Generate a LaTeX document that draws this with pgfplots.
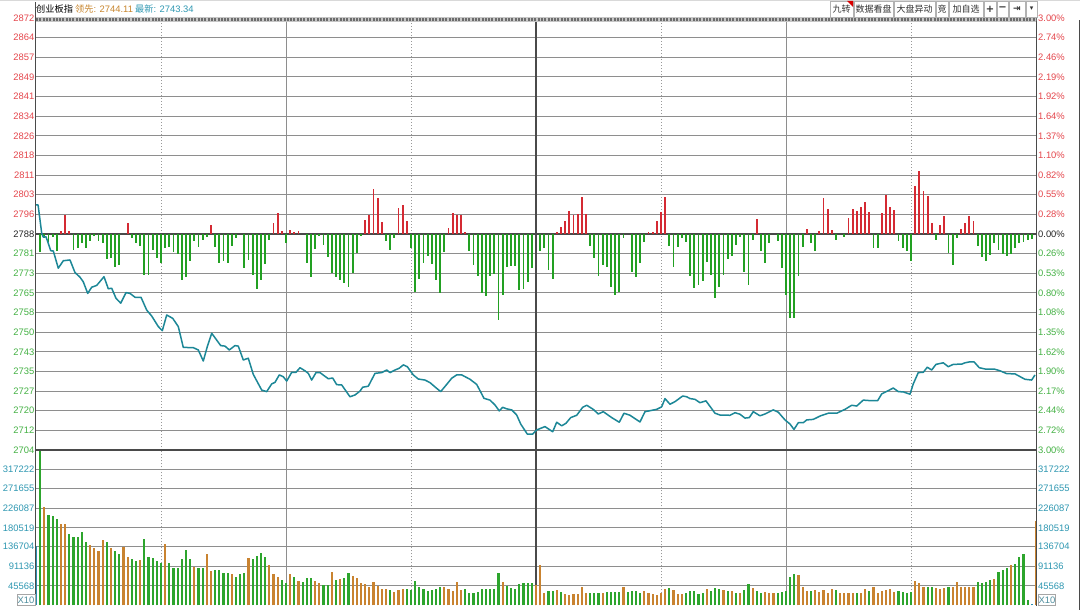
\documentclass[border=0pt]{standalone}
\usepackage{fontspec}
\setmainfont{Liberation Sans}
\newfontfamily\cjk{Noto Sans CJK SC}
\newfontfamily\dvs{DejaVu Sans}
\usepackage{pgfplots}
\pgfplotsset{compat=1.18}

\definecolor{cred}{HTML}{E5474D}
\definecolor{cgrn}{HTML}{45B245}
\definecolor{cteal}{HTML}{2F98B2}
\definecolor{cdark}{HTML}{4A4A4A}
\definecolor{cgrid}{HTML}{8E8E8E}
\definecolor{barred}{HTML}{D42A33}
\definecolor{bargrn}{HTML}{22A022}
\definecolor{volgrn}{HTML}{2DA52D}
\definecolor{volorg}{HTML}{C98330}
\definecolor{volblu}{HTML}{2E8FB0}
\definecolor{pline}{HTML}{1C8797}
\definecolor{corange}{HTML}{C8862E}

\newcommand\lbl{\fontsize{9.4}{10}\selectfont}
\newcommand\R[1]{\textcolor{cred}{#1}}
\newcommand\G[1]{\textcolor{cgrn}{#1}}
\newcommand\K[1]{\textcolor{black!85}{#1}}
\newcommand\T[1]{\textcolor{cteal}{#1}}

\pgfplotsset{
  panel/.style={scale only axis, width=1000pt, anchor=south west,
    xmin=0, xmax=240, axis line style={draw=none}, tick style={draw=none},
    major tick length=0pt, minor tick length=0pt, scaled y ticks=false},
  vgrid/.style={xtick={60,180}, xticklabels={}, minor xtick={30,90,150,210},
    extra x ticks={120}, extra x tick labels={},
    extra x tick style={grid=major, major grid style={draw=cdark, line width=1.4pt}},
    xmajorgrids, xminorgrids, ymajorgrids,
    major grid style={draw=cgrid, line width=0.9pt},
    minor grid style={draw=gray!80, line width=0.7pt, dash pattern=on 1pt off 2pt}},
  leftlab/.style={yticklabel style={font=\lbl, inner sep=0pt, xshift=-1.5pt}},
  rightlab/.style={yticklabel pos=right, yticklabel style={font=\lbl, inner sep=0pt, xshift=2pt}},
}

\begin{document}
\begin{tikzpicture}
\useasboundingbox (0,0) rectangle (1080pt,610pt);
\fill[white] (0,0) rectangle (1080pt,610pt);

% price panel: grid and left labels
\begin{axis}[panel, vgrid, leftlab, at={(36pt,160pt)}, height=432pt,
  ymin=2704, ymax=2872,
  ytick={2704,2711.6364,2719.2727,2726.9091,2734.5455,2742.1818,2749.8182,2757.4545,2765.0909,2772.7273,2780.3636,2788,2795.6364,2803.2727,2810.9091,2818.5455,2826.1818,2833.8182,2841.4545,2849.0909,2856.7273,2864.3636,2872},
  yticklabels={\G{2704},\G{2712},\G{2720},\G{2727},\G{2735},\G{2743},\G{2750},\G{2758},\G{2765},\G{2773},\G{2781},\K{2788},\R{2796},\R{2803},\R{2811},\R{2818},\R{2826},\R{2834},\R{2841},\R{2849},\R{2857},\R{2864},\R{2872}},
  extra y ticks={2788}, extra y tick labels={},
  extra y tick style={grid=major, major grid style={draw=cdark, line width=2pt}},
]
\end{axis}

% up/down strength bars and right percentage labels
\begin{axis}[panel, rightlab, at={(36pt,160pt)}, height=432pt,
  ymin=-84, ymax=84, xtick=\empty,
  ytick={-84,-76.3636,-68.7273,-61.0909,-53.4545,-45.8182,-38.1818,-30.5455,-22.9091,-15.2727,-7.6364,0,7.6364,15.2727,22.9091,30.5455,38.1818,45.8182,53.4545,61.0909,68.7273,76.3636,84},
  yticklabels={\G{3.00\%},\G{2.72\%},\G{2.44\%},\G{2.17\%},\G{1.90\%},\G{1.62\%},\G{1.35\%},\G{1.08\%},\G{0.80\%},\G{0.53\%},\G{0.26\%},\K{0.00\%},\R{0.28\%},\R{0.55\%},\R{0.82\%},\R{1.10\%},\R{1.37\%},\R{1.64\%},\R{1.92\%},\R{2.19\%},\R{2.46\%},\R{2.74\%},\R{3.00\%}},
]
\addplot[ycomb, mark=none, draw=bargrn, line width=1.8pt] coordinates {
(1,-7.1)(2,-1.6)(3,-3.2)(4,-1.3)(5,-6.7)(9,-6.2)(10,-5.4)(11,-3.6)(12,-5.6)(13,-2.6)(14,-0.8)(15,-2.6)(16,-3.4)(17,-9.9)(18,-9.5)(19,-12.7)(20,-12.1)(23,-1.6)(24,-3.4)(25,-4.8)(26,-15.9)(27,-15.9)(28,-6.2)(29,-9.5)(30,-11.4)(31,-5.6)(32,-4.9)(33,-7.1)(34,-7.8)(35,-17.9)(36,-16.9)(37,-10.4)(38,-2.6)(39,-5.2)(40,-2.3)(41,-1.0)(43,-4.9)(44,-11.1)(45,-10.4)(46,-11.4)(47,-4.8)(48,-1.6)(50,-13.4)(51,-10.1)(52,-15.8)(53,-21.5)(54,-17.9)(55,-11.7)(56,-2.2)(60,-3.6)(65,-11.1)(66,-16.6)(67,-6.0)(68,-0.6)(69,-4.1)(70,-9.1)(71,-15.3)(72,-16.9)(73,-17.8)(74,-19.2)(75,-20.7)(76,-15.3)(77,-7.3)(78,-0.6)(84,-2.9)(85,-6.2)(86,-1.6)(90,-5.4)(91,-22.4)(92,-17.5)(93,-11.4)(94,-8.4)(95,-11.7)(96,-17.8)(97,-22.9)(98,-7.1)(104,-6.5)(105,-12.1)(106,-16.2)(107,-22.9)(108,-24.1)(109,-16.3)(110,-15.6)(111,-33.4)(112,-23.6)(113,-12.7)(114,-12.3)(115,-12.6)(116,-21.8)(117,-21.4)(118,-18.8)(119,-13.3)(121,-6.5)(122,-5.6)(123,-14.0)(124,-17.5)(133,-4.8)(134,-9.5)(135,-16.2)(136,-11.9)(137,-12.7)(138,-20.7)(139,-23.6)(140,-22.4)(141,-1.6)(143,-14.9)(144,-16.9)(145,-11.4)(146,-3.2)(152,-4.5)(153,-13.0)(154,-5.2)(155,-1.6)(156,-3.2)(157,-16.2)(158,-21.0)(159,-19.7)(160,-18.1)(161,-11.0)(162,-15.8)(163,-24.9)(164,-20.7)(165,-15.9)(166,-9.7)(167,-8.4)(168,-4.3)(169,-1.0)(170,-14.9)(171,-19.7)(172,-2.2)(174,-6.5)(175,-11.3)(176,-3.5)(178,-2.9)(179,-13.4)(180,-23.7)(181,-32.8)(182,-32.8)(183,-16.5)(184,-4.9)(186,-3.5)(187,-6.5)(192,-2.2)(194,-1.0)(201,-5.6)(202,-5.6)(207,-2.9)(208,-5.4)(209,-6.5)(210,-10.4)(216,-2.2)(219,-7.4)(220,-12.1)(221,-1.6)(226,-4.8)(227,-9.1)(228,-10.6)(229,-8.0)(230,-3.5)(231,-6.1)(232,-7.8)(233,-8.7)(234,-7.8)(235,-5.6)(236,-3.5)(237,-3.0)(238,-2.2)(239,-1.9)
};
\addplot[ycomb, mark=none, draw=barred, line width=1.8pt] coordinates {
(6,1.3)(7,7.5)(8,1.3)(22,4.4)(42,3.6)(57,4.4)(58,8.3)(59,1.3)(61,1.6)(62,0.9)(63,1.3)(79,5.4)(80,7.5)(81,17.5)(82,14.0)(83,4.7)(87,10.0)(88,11.4)(89,4.9)(99,2.3)(100,8.2)(101,7.5)(102,7.5)(103,0.6)(125,0.6)(126,2.6)(127,4.9)(128,9.1)(129,7.5)(130,7.8)(131,14.3)(132,7.8)(147,0.6)(148,0.6)(149,4.9)(150,8.7)(151,14.5)(173,5.8)(185,1.9)(188,1.3)(189,14.0)(190,9.7)(191,1.7)(195,6.2)(196,9.7)(197,8.8)(198,10.4)(199,12.3)(200,8.6)(203,8.0)(204,15.2)(205,10.6)(206,9.3)(211,18.5)(212,24.5)(213,16.9)(214,14.6)(215,4.1)(217,3.6)(218,7.1)(222,1.8)(223,4.1)(224,7.1)(225,5.1)
};
\end{axis}

% index line
\begin{axis}[panel, hide axis, at={(36pt,160pt)}, height=432pt, ymin=2704, ymax=2872]
\addplot[draw=pline, line width=1.5pt, line join=round, mark=none] coordinates {
(0,2799.3)(0.5,2799.3)(1.37,2788.3)(1.75,2786.8)(2.4,2786.9)(2.95,2784.4)(3.53,2781.5)(4.15,2781.4)(5.35,2774.7)(6.55,2777.6)(8.16,2777.9)(9.36,2773.0)(10.56,2771.2)(11.35,2769.4)(12.41,2764.9)(13.37,2767.3)(14.57,2768.0)(16.32,2771.4)(17.35,2766.7)(18.17,2766.9)(19.2,2763.0)(20.33,2761.1)(21.6,2765.2)(22.56,2764.9)(23.76,2763.4)(25.2,2763.4)(26.57,2758.4)(27.77,2756.1)(29.35,2752.0)(30.31,2750.4)(31.37,2756.5)(32.81,2755.2)(34.15,2752.0)(35.35,2743.9)(37.75,2743.8)(38.95,2742.9)(40.15,2738.6)(41.11,2744.2)(42.17,2749.4)(44.33,2744.6)(45.36,2744.4)(46.39,2742.9)(47.76,2744.6)(48.55,2744.4)(49.75,2739.0)(50.95,2739.7)(52.15,2733.4)(54.17,2727.3)(55.37,2726.7)(56.57,2729.7)(57.36,2730.3)(58.39,2733.2)(59.35,2732.5)(60.17,2730.8)(61.37,2734.2)(62.4,2734.2)(63.36,2736.0)(64.56,2734.8)(65.35,2733.8)(66.17,2731.2)(67.2,2734.1)(68.16,2734.1)(70.15,2731.7)(71.21,2732.0)(72.17,2729.4)(73.37,2729.3)(75.36,2724.7)(76.56,2725.4)(77.76,2726.9)(78.41,2728.4)(79.75,2728.8)(81.36,2733.8)(82.97,2734.1)(84.17,2735.1)(84.96,2734.1)(86.16,2735.1)(87.19,2735.8)(88.15,2737.1)(89.11,2736.4)(90.55,2733.2)(91.75,2731.6)(93.36,2731.2)(94.56,2730.2)(96.0,2728.2)(97.13,2726.7)(98.57,2729.5)(99.77,2731.9)(100.97,2733.2)(102.17,2733.2)(104.16,2731.5)(105.77,2729.5)(107.52,2724.1)(108.96,2723.4)(110.16,2721.5)(111.19,2719.2)(112.0,2720.6)(112.97,2720.0)(114.17,2719.6)(115.37,2717.6)(116.33,2714.1)(117.91,2710.2)(119.2,2710.2)(120.17,2711.8)(122.16,2713.1)(124.01,2711.1)(124.97,2714.8)(126.17,2713.4)(127.2,2714.4)(128.33,2716.6)(129.77,2717.5)(131.21,2720.6)(132.17,2721.4)(133.75,2719.8)(134.95,2718.0)(136.15,2718.9)(138.17,2716.6)(139.99,2714.8)(141.12,2718.3)(142.56,2717.5)(144.96,2714.9)(146.16,2718.9)(148.97,2719.8)(150.17,2720.8)(150.96,2724.0)(152.16,2721.8)(153.36,2722.8)(155.21,2725.0)(156.17,2724.7)(156.96,2724.0)(158.16,2723.7)(159.36,2722.4)(160.8,2723.1)(162.96,2718.3)(164.16,2717.6)(166.56,2717.5)(167.76,2718.5)(168.96,2717.9)(170.16,2716.4)(171.19,2716.6)(172.15,2718.9)(173.76,2717.3)(174.96,2718.0)(176.95,2719.6)(178.15,2718.7)(179.76,2715.7)(180.96,2714.1)(181.92,2712.0)(182.95,2714.6)(184.15,2714.6)(184.97,2715.7)(186.55,2715.9)(188.16,2717.2)(190.15,2718.3)(192.17,2718.3)(194.16,2719.8)(195.77,2721.4)(196.97,2721.1)(198.55,2723.4)(200.16,2723.2)(202.01,2723.2)(202.97,2725.8)(204.55,2727.1)(205.75,2728.1)(206.95,2726.7)(208.15,2726.6)(209.76,2725.7)(210.55,2729.7)(211.75,2734.1)(212.95,2734.2)(213.91,2736.2)(214.97,2735.1)(216.0,2737.3)(217.75,2737.9)(218.95,2736.4)(220.15,2737.3)(222.17,2737.4)(222.96,2737.9)(224.16,2738.3)(225.12,2738.3)(226.39,2736.0)(227.76,2735.5)(230.16,2735.4)(231.36,2734.8)(232.97,2733.7)(234.96,2733.6)(237.36,2731.5)(238.97,2731.2)(239.76,2733.2)
};
\end{axis}

% volume panel
\begin{axis}[panel, vgrid, leftlab, at={(36pt,4.5pt)}, height=155.5pt,
  ymin=0, ymax=361540, clip=false,
  ytick={45568,91136,136704,180519,226087,271655,317222},
  yticklabels={\T{45568},\T{91136},\T{136704},\T{180519},\T{226087},\T{271655},\T{317222}},
]
\addplot[ycomb, mark=none, draw=volgrn, line width=2.1pt] coordinates {
(1,361000)(3,210400)(4,208100)(5,200400)(8,166200)(9,160000)(10,159000)(11,171600)(12,146900)(17,146900)(19,127400)(20,120400)(23,107400)(24,103500)(26,154600)(27,113500)(28,109700)(29,103500)(30,99500)(32,99500)(33,86500)(34,86500)(35,108100)(36,128300)(37,107400)(39,86500)(40,86500)(43,82500)(44,81400)(45,74900)(46,74900)(48,67000)(49,72400)(50,74900)(52,107400)(53,115800)(54,122800)(55,112100)(59,59300)(60,53000)(62,67000)(64,54600)(65,63200)(66,65000)(69,47000)(70,47000)(72,59300)(74,63200)(75,74900)(85,36000)(89,37600)(90,36000)(91,57000)(92,42300)(93,37600)(94,33700)(95,36000)(96,37600)(97,42300)(103,37600)(104,29800)(105,28300)(106,32200)(107,37600)(108,37600)(109,37600)(110,37600)(111,75600)(113,45300)(114,40000)(115,37600)(116,50700)(117,52300)(118,52300)(119,52300)(123,33700)(124,33700)(126,31400)(133,28300)(134,28300)(135,29800)(137,31400)(138,31400)(139,31400)(140,31400)(142,31400)(143,33700)(144,33700)(145,29800)(152,40000)(156,28300)(157,33700)(158,33700)(159,26000)(160,28300)(162,33700)(163,40000)(164,37600)(166,33700)(168,29800)(170,36000)(171,49300)(173,33700)(174,29800)(178,28300)(179,31400)(180,33700)(181,65600)(182,73200)(186,33700)(192,36000)(197,29800)(200,33700)(207,33700)(208,31400)(209,29800)(210,31400)(214,43700)(215,43700)(219,43700)(226,53900)(227,52300)(228,54600)(229,58500)(231,78600)(232,81800)(233,87900)(235,96500)(236,113500)(237,119700)(238,12800)
};
\addplot[ycomb, mark=none, draw=volorg, line width=2.1pt] coordinates {
(2,228300)(6,188800)(7,188800)(13,140000)(14,133000)(15,126700)(16,152300)(18,133000)(21,135300)(22,112100)(25,105800)(31,142300)(38,90200)(41,119000)(42,80200)(47,73200)(51,111100)(56,94200)(57,73200)(58,65600)(61,73200)(63,57000)(67,57500)(68,51600)(71,78600)(73,61000)(76,68600)(77,63200)(78,53000)(79,49300)(80,42300)(81,54600)(82,45300)(83,38400)(84,37600)(86,31400)(87,36000)(88,38400)(98,42300)(99,37600)(100,33700)(101,54600)(102,36000)(112,54600)(120,47000)(121,93500)(122,29800)(125,36000)(127,26000)(128,23700)(129,26000)(130,26000)(131,43000)(132,28300)(136,28300)(141,42300)(146,33700)(147,28300)(148,26000)(149,23700)(150,28300)(151,37600)(153,36000)(154,26000)(155,27500)(161,37600)(165,36000)(167,33700)(169,29800)(172,40000)(175,31400)(176,29800)(177,29800)(183,70200)(184,43700)(185,33700)(187,36000)(188,31400)(189,36000)(190,29800)(191,37600)(193,29800)(194,29800)(195,28300)(196,28300)(198,29800)(199,37600)(201,43700)(202,29800)(203,33700)(204,36000)(205,37600)(206,31400)(211,57000)(212,51600)(213,43700)(216,40000)(217,39300)(218,40000)(220,43700)(221,54600)(222,43000)(223,43700)(224,43700)(225,43700)(230,60900)(234,93500)(240,196500)
};
\addplot[ycomb, mark=none, draw=volblu, line width=2.1pt] coordinates {(0,138300)(239,3500)};
\end{axis}

% volume right labels
\begin{axis}[panel, rightlab, at={(36pt,4.5pt)}, height=155.5pt,
  ymin=0, ymax=361540, xtick=\empty,
  ytick={45568,91136,136704,180519,226087,271655,317222},
  yticklabels={\T{45568},\T{91136},\T{136704},\T{180519},\T{226087},\T{271655},\T{317222}},
]
\end{axis}

% frame
\draw[cdark, line width=1.5pt] (36pt,160pt) -- (1036pt,160pt);
\draw[cdark, line width=1pt] (35.5pt,4pt) -- (35.5pt,608pt);
\draw[cdark, line width=1pt] (1036.5pt,4pt) -- (1036.5pt,593pt);
\draw[cdark, line width=1pt] (1079pt,0pt) -- (1079pt,590pt);
\fill[gray!45] (36pt,588pt) rectangle (1036pt,593pt);
\draw[gray!85!black, line width=3.2pt, dash pattern=on 2pt off 1.3pt] (36pt,590.5pt) -- (1036pt,590.5pt);
\draw[gray!30, line width=1pt] (0pt,609.5pt) -- (1080pt,609.5pt);

% header
\node[anchor=west, inner sep=0pt, font=\cjk\fontsize{9.2}{10}\selectfont] at (36pt,601pt) {创业板指};
\node[anchor=west, inner sep=0pt, text=corange, font=\lbl] at (75pt,601pt) {{\cjk\fontsize{9.2}{10}\selectfont 领先}: 2744.11};
\node[anchor=west, inner sep=0pt, text=cteal, font=\lbl] at (135pt,601pt) {{\cjk\fontsize{9.2}{10}\selectfont 最新}: 2743.34};

% buttons
\tikzset{btn/.style={draw=gray!60, fill=white, inner sep=0pt, minimum height=16pt,
  text=black!80, font=\cjk\fontsize{9}{9}\selectfont}}
\node[btn, minimum width=23pt] at (841.5pt,601pt) {九转};
\fill[red!85!black] (847pt,609pt) -- (853pt,609pt) -- (853pt,603pt) -- cycle;
\node[btn, minimum width=39pt] at (873.5pt,601pt) {数据看盘};
\node[btn, minimum width=41pt] at (914.5pt,601pt) {大盘异动};
\node[btn, minimum width=12pt] at (942pt,601pt) {竞};
\node[btn, minimum width=34pt] at (966pt,601pt) {加自选};
\node[btn, minimum width=12pt, font=\dvs\bfseries\fontsize{10}{10}\selectfont] at (990pt,601pt) {+};
\node[btn, minimum width=11pt, font=\dvs\bfseries\fontsize{10}{10}\selectfont] at (1002.5pt,601pt) {−};
\node[btn, minimum width=16pt, font=\dvs\bfseries\fontsize{9}{9}\selectfont] at (1017pt,601pt) {⇥};
\node[btn, minimum width=11pt, font=\dvs\fontsize{7}{7}\selectfont] at (1031.5pt,601pt) {▾};

% X10 boxes
\node[draw=gray!70, inner sep=0pt, minimum width=18pt, minimum height=11pt, font=\lbl, text=cteal!60!gray] at (26pt,10pt) {X10};
\node[draw=gray!70, inner sep=0pt, minimum width=17pt, minimum height=11pt, font=\lbl, text=cteal!60!gray] at (1047pt,10pt) {X10};
\end{tikzpicture}
\end{document}
